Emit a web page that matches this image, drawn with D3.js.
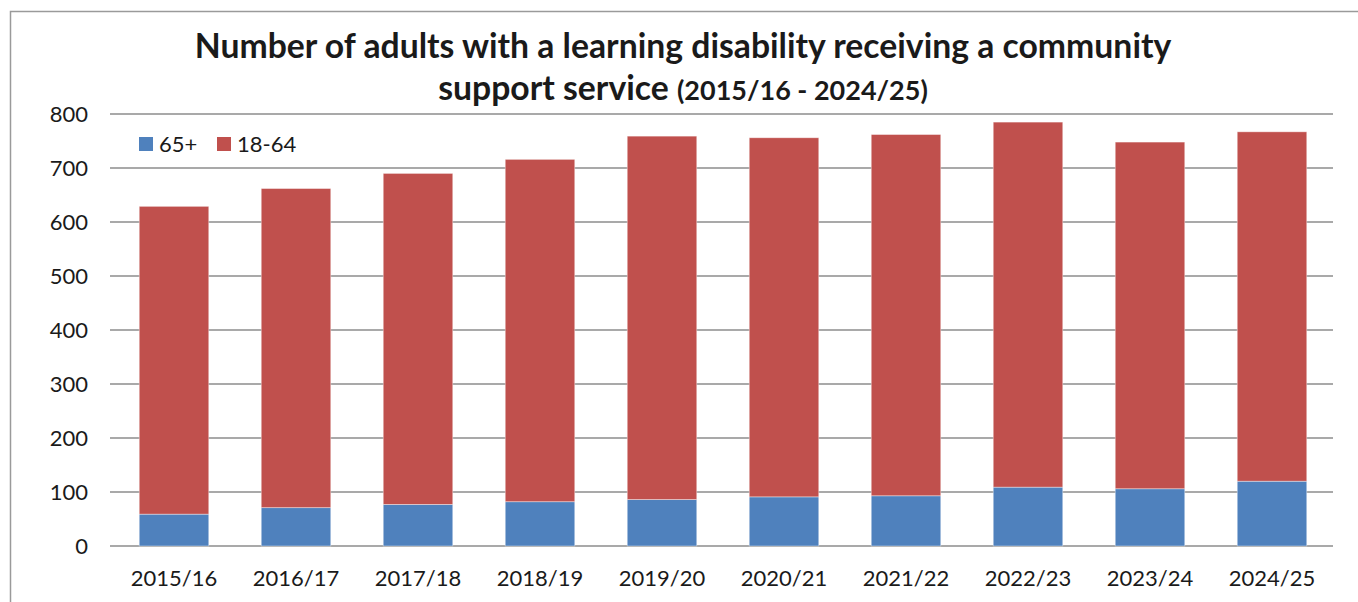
<!DOCTYPE html>
<html>
<head>
<meta charset="utf-8">
<script src="https://cdn.jsdelivr.net/npm/d3@7"></script>
<style>
  html, body { margin: 0; padding: 0; background: #fff; }
  svg { display: block; }
  text { font-family: Lato, "Open Sans", sans-serif; fill: #1a1a1a; }
</style>
</head>
<body>
<svg id="chart" width="1358" height="602"></svg>
<script>
const categories = ["2015/16","2016/17","2017/18","2018/19","2019/20","2020/21","2021/22","2022/23","2023/24","2024/25"];
const seriesNames = ["65+","18-64"];
const values65plus = [59, 71, 77, 82, 86, 91, 93, 109, 106, 120];
const values18to64 = [570, 591, 613, 634, 673, 665, 669, 676, 642, 647];
const yTicks = [0, 100, 200, 300, 400, 500, 600, 700, 800];
const colors = ["#4F81BD", "#C0504D"];
const titleLine1 = "Number of adults with a learning disability receiving a community";
const titleLine2a = "support service ";
const titleLine2b = "(2015/16 - 2024/25)";

const svg = d3.select("#chart");
const plot = { left: 110, right: 1333, top: 114, bottom: 546 };

// outer chart border (cropped at right/bottom)
svg.append("rect")
  .attr("x", 10.5).attr("y", 11.5)
  .attr("width", 1400).attr("height", 700)
  .attr("fill", "none").attr("stroke", "#9a9a9a").attr("stroke-width", 1.5);

const x = d3.scaleBand().domain(categories)
  .range([plot.left + 3, plot.right]).paddingInner(0.43).paddingOuter(0.215);
const y = d3.scaleLinear().domain([0, 800]).range([plot.bottom, plot.top]);

// gridlines
svg.append("g").selectAll("line").data(yTicks).join("line")
  .attr("x1", plot.left).attr("x2", plot.right)
  .attr("y1", d => y(d)).attr("y2", d => y(d))
  .attr("stroke", "#8c8c8c").attr("stroke-width", 1.6);

// y axis labels
const yAxis = d3.axisLeft(y).tickValues(yTicks).tickSize(0).tickPadding(0);
const gy = svg.append("g").attr("transform", `translate(${plot.left - 22},0)`).call(yAxis);
gy.select(".domain").remove();
gy.selectAll("text").style("font-family", "Lato, sans-serif").style("font-size", "22px").attr("fill", "#1a1a1a").attr("dy", "0.36em");

// x axis labels
const xAxis = d3.axisBottom(x).tickSize(0).tickPadding(0);
const gx = svg.append("g").attr("transform", `translate(0,${plot.bottom + 24})`).call(xAxis);
gx.select(".domain").remove();
gx.selectAll("text").style("font-family", "Lato, sans-serif").style("font-size", "22px").attr("fill", "#1a1a1a").attr("dy", "0.71em");

// stacked bars
const rows = categories.map((c, i) => ({ cat: c, "65+": values65plus[i], "18-64": values18to64[i] }));
const stack = d3.stack().keys(seriesNames)(rows);
svg.append("g").selectAll("g").data(stack).join("g")
  .attr("fill", (d, i) => colors[i])
  .selectAll("rect").data(d => d).join("rect")
  .attr("x", d => x(d.data.cat))
  .attr("width", x.bandwidth())
  .attr("y", d => y(d[1]))
  .attr("height", d => y(d[0]) - y(d[1]))
  .attr("stroke", "#ffffff").attr("stroke-opacity", 0.5).attr("stroke-width", 0.8);

// legend
const legend = svg.append("g").attr("transform", "translate(139,144)");
const legendX = [0, 78];
seriesNames.forEach((name, i) => {
  const g = legend.append("g").attr("transform", `translate(${legendX[i]},0)`);
  g.append("rect").attr("x", 0).attr("y", -7).attr("width", 14).attr("height", 14).attr("fill", colors[i]);
  g.append("text").attr("x", 20).attr("y", 0).attr("dy", "0.36em")
    .style("font-size", "22px").text(name);
});

// title
const cx = 683;
const t1 = svg.append("text").attr("x", cx).attr("y", 58).attr("text-anchor", "middle")
  .style("font-weight", "bold").style("font-size", "30px").text(titleLine1);
const targetW = 977;
const w1 = t1.node().getComputedTextLength();
const fs = 30 * targetW / w1;
t1.style("font-size", fs + "px");

const t2 = svg.append("text").attr("x", cx).attr("y", 100).attr("text-anchor", "middle")
  .style("font-weight", "bold");
t2.append("tspan").style("font-size", fs + "px").text(titleLine2a);
t2.append("tspan").style("font-size", (fs * 0.8) + "px").text(titleLine2b);
</script>
</body>
</html>
